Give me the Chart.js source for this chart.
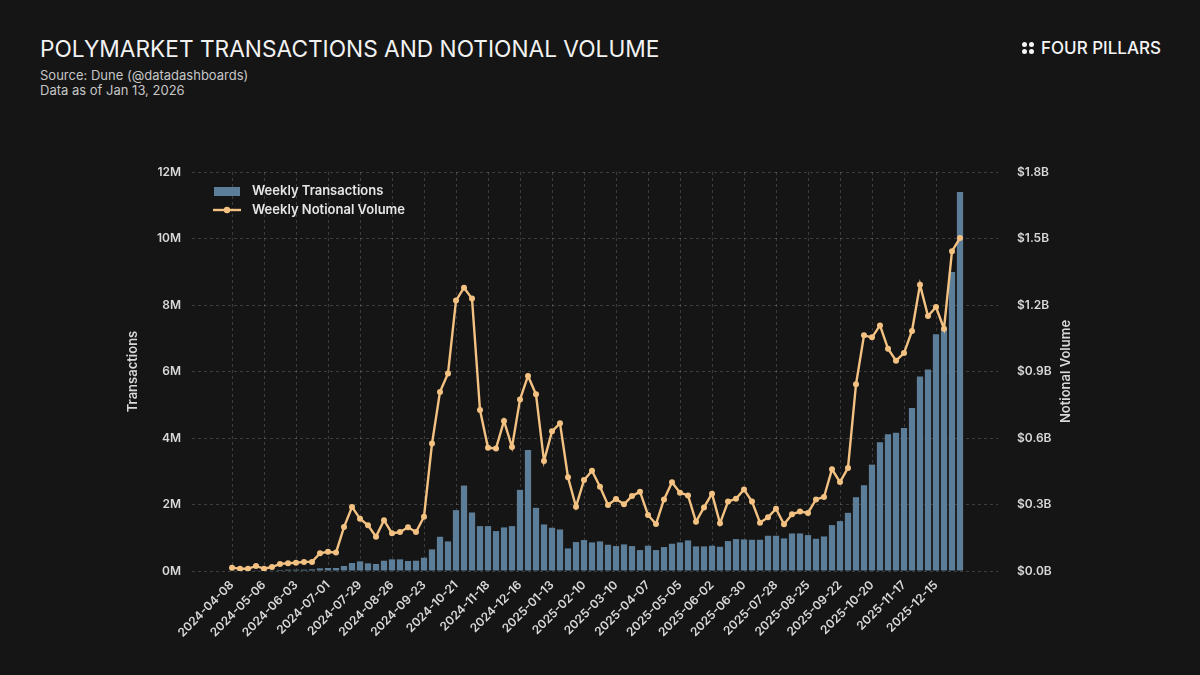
<!DOCTYPE html>
<html>
<head>
<meta charset="utf-8">
<title>Polymarket Transactions and Notional Volume</title>
<script src="https://cdn.jsdelivr.net/npm/chart.js@4.4.1/dist/chart.umd.min.js"></script>
<style>
  html, body { margin: 0; padding: 0; background: #151515; }
  body { width: 1200px; height: 675px; position: relative; overflow: hidden; font-family: Inter, "Noto Sans", sans-serif; }
  #title { position: absolute; left: 40px; top: 36px; font-size: 22.7px; line-height: 26px; font-weight: 400; color: #f2f2f2; white-space: nowrap; }
  .sub { position: absolute; left: 40px; font-size: 13px; line-height: 15px; color: #c6c6c6; white-space: nowrap; }
  #brand { position: absolute; left: 1022px; top: 38px; height: 20px; display: flex; align-items: center; color: #f4f4f4; font-size: 17px; font-weight: 500; white-space: nowrap; }
  #brand .dots { width: 12px; height: 12px; display: grid; grid-template-columns: 5px 5px; grid-gap: 2px; margin-right: 7px; }
  #brand .dots i { display: block; width: 5px; height: 5px; border-radius: 50%; background: #f4f4f4; }
  #wrap { position: absolute; left: 0; top: 0; width: 1200px; height: 675px; }
</style>
</head>
<body>
<div id="title">POLYMARKET TRANSACTIONS AND NOTIONAL VOLUME</div>
<div class="sub" style="top:68px">Source: Dune (@datadashboards)</div>
<div class="sub" style="top:83px">Data as of Jan 13, 2026</div>
<div id="brand"><span class="dots"><i></i><i></i><i></i><i></i></span>FOUR PILLARS</div>
<div id="wrap"><canvas id="c" width="1200" height="675"></canvas></div>

<script>
// weekly buckets (week start, Monday)
const weeks = [
  "2024-04-08","2024-04-15","2024-04-22","2024-04-29","2024-05-06","2024-05-13","2024-05-20","2024-05-27",
  "2024-06-03","2024-06-10","2024-06-17","2024-06-24","2024-07-01","2024-07-08","2024-07-15","2024-07-22",
  "2024-07-29","2024-08-05","2024-08-12","2024-08-19","2024-08-26","2024-09-02","2024-09-09","2024-09-16",
  "2024-09-23","2024-09-30","2024-10-07","2024-10-14","2024-10-21","2024-10-28","2024-11-04","2024-11-11",
  "2024-11-18","2024-11-25","2024-12-02","2024-12-09","2024-12-16","2024-12-23","2024-12-30","2025-01-06",
  "2025-01-13","2025-01-20","2025-01-27","2025-02-03","2025-02-10","2025-02-17","2025-02-24","2025-03-03",
  "2025-03-10","2025-03-17","2025-03-24","2025-03-31","2025-04-07","2025-04-14","2025-04-21","2025-04-28",
  "2025-05-05","2025-05-12","2025-05-19","2025-05-26","2025-06-02","2025-06-09","2025-06-16","2025-06-23",
  "2025-06-30","2025-07-07","2025-07-14","2025-07-21","2025-07-28","2025-08-04","2025-08-11","2025-08-18",
  "2025-08-25","2025-09-01","2025-09-08","2025-09-15","2025-09-22","2025-09-29","2025-10-06","2025-10-13",
  "2025-10-20","2025-10-27","2025-11-03","2025-11-10","2025-11-17","2025-11-24","2025-12-01","2025-12-08",
  "2025-12-15","2025-12-22","2025-12-29","2026-01-05"
];

// weekly transactions, millions
const transactionsM = [
  0.01,0.01,0.01,0.02,0.02,0.02,0.03,0.04,
  0.04,0.04,0.05,0.08,0.09,0.09,0.15,0.24,
  0.29,0.23,0.21,0.31,0.35,0.35,0.30,0.31,
  0.40,0.65,1.03,0.89,1.83,2.57,1.76,1.35,
  1.35,1.20,1.31,1.35,2.44,3.64,1.90,1.40,
  1.30,1.25,0.68,0.87,0.93,0.86,0.89,0.79,
  0.75,0.80,0.75,0.63,0.76,0.63,0.72,0.82,
  0.86,0.92,0.74,0.74,0.76,0.73,0.90,0.96,
  0.95,0.94,0.94,1.06,1.06,0.98,1.13,1.13,
  1.08,0.97,1.04,1.38,1.50,1.75,2.22,2.58,
  3.20,3.87,4.11,4.16,4.30,4.90,5.85,6.06,
  7.12,7.30,8.99,11.40
];

// weekly notional volume, $ billions
const notionalB = [
  0.015,0.010,0.010,0.023,0.010,0.018,0.032,0.035,
  0.037,0.041,0.041,0.080,0.087,0.083,0.198,0.289,
  0.236,0.206,0.155,0.229,0.170,0.176,0.197,0.176,
  0.245,0.575,0.808,0.891,1.220,1.278,1.229,0.726,
  0.556,0.553,0.677,0.559,0.774,0.880,0.797,0.496,
  0.630,0.666,0.423,0.290,0.410,0.452,0.380,0.298,
  0.325,0.301,0.338,0.358,0.253,0.212,0.323,0.400,
  0.353,0.341,0.222,0.287,0.349,0.215,0.313,0.326,
  0.368,0.313,0.218,0.242,0.281,0.211,0.256,0.268,
  0.262,0.323,0.334,0.459,0.401,0.465,0.842,1.063,
  1.054,1.108,1.003,0.949,0.983,1.083,1.291,1.150,
  1.191,1.093,1.443,1.502
];

const tickLabels = [
  "2024-04-08","2024-05-06","2024-06-03","2024-07-01","2024-07-29","2024-08-26","2024-09-23",
  "2024-10-21","2024-11-18","2024-12-16","2025-01-13","2025-02-10","2025-03-10","2025-04-07",
  "2025-05-05","2025-06-02","2025-06-30","2025-07-28","2025-08-25","2025-09-22","2025-10-20",
  "2025-11-17","2025-12-15"
];
const txTicks = [0, 2, 4, 6, 8, 10, 12];
const volTicks = [0, 0.3, 0.6, 0.9, 1.2, 1.5, 1.8];

const BAR = "#5d7e98";
const LINE = "#f3c283";
const GRID = "rgba(255,255,255,0.17)";
const TXT = "#d8d8d8";

Chart.defaults.font.family = "Inter, 'Noto Sans', sans-serif";

// legend + axis titles drawn by hand so they sit where the original has them
const overlay = {
  id: "overlay",
  afterDraw(chart){
    const { ctx, chartArea: a } = chart;
    const ds = chart.data.datasets;
    const bars = ds.find(d => d.type === "bar");
    const line = ds.find(d => d.type === "line");
    ctx.save();
    ctx.textBaseline = "middle";
    ctx.font = "600 13px Inter, 'Noto Sans', sans-serif";
    const lx = a.left + 22;
    ctx.fillStyle = bars.backgroundColor;
    ctx.fillRect(lx, a.top + 15, 26, 9);
    ctx.fillStyle = "#e6e6e6";
    ctx.fillText(bars.label, lx + 38, a.top + 19.5);
    ctx.strokeStyle = line.borderColor;
    ctx.lineWidth = 2.4;
    ctx.beginPath(); ctx.moveTo(lx - 1, a.top + 38); ctx.lineTo(lx + 27, a.top + 38); ctx.stroke();
    ctx.fillStyle = line.borderColor;
    ctx.beginPath(); ctx.arc(lx + 13, a.top + 38, 3.2, 0, Math.PI * 2); ctx.fill();
    ctx.fillStyle = "#e6e6e6";
    ctx.fillText(line.label, lx + 38, a.top + 38.5);

    const midY = (a.top + a.bottom) / 2;
    ctx.textAlign = "center";
    ctx.fillStyle = TXT;
    ctx.font = "600 13px Inter, 'Noto Sans', sans-serif";
    ctx.save(); ctx.translate(133, midY); ctx.rotate(-Math.PI / 2); ctx.fillText("Transactions", 0, 0); ctx.restore();
    ctx.save(); ctx.translate(1066, midY); ctx.rotate(-Math.PI / 2); ctx.fillText("Notional Volume", 0, 0); ctx.restore();
    ctx.restore();
  }
};

function draw(){
  new Chart(document.getElementById("c"), {
    type: "bar",
    data: {
      datasets: [
        {
          type: "line", label: "Weekly Notional Volume", yAxisID: "y1", order: 0,
          data: weeks.map((w, i) => ({ x: i, y: notionalB[i] })),
          borderColor: LINE, backgroundColor: LINE, borderWidth: 2.4, tension: 0,
          pointRadius: 3, pointBorderWidth: 0, pointBackgroundColor: LINE
        },
        {
          type: "bar", label: "Weekly Transactions", yAxisID: "y", order: 1,
          data: weeks.map((w, i) => ({ x: i, y: transactionsM[i] })),
          backgroundColor: BAR, barPercentage: 0.78, categoryPercentage: 1
        }
      ]
    },
    options: {
      responsive: false,
      animation: false,
      layout: { padding: { left: 122, right: 142, top: 172, bottom: 14 } },
      plugins: { legend: { display: false }, tooltip: { enabled: false } },
      scales: {
        x: {
          type: "linear", min: -5, max: 95.75, offset: false,
          grid: { offset: false, color: GRID, drawTicks: false },
          border: { display: false, dash: [3, 3] },
          afterBuildTicks(s){ s.ticks = tickLabels.map(l => ({ value: weeks.indexOf(l) })); },
          afterFit(s){ s.height = 90; },
          ticks: {
            autoSkip: false, minRotation: 45, maxRotation: 45, padding: 7,
            color: TXT, font: { size: 12, weight: "600" },
            callback: v => weeks[v]
          }
        },
        y: {
          position: "left", min: 0, max: 12,
          afterBuildTicks(s){ s.ticks = txTicks.map(v => ({ value: v })); },
          afterFit(s){ s.width = 70; },
          grid: { color: GRID, drawTicks: false },
          border: { display: false, dash: [3, 3] },
          ticks: { padding: 11, color: TXT, font: { size: 12, weight: "600" }, callback: v => v + "M" }
        },
        y1: {
          position: "right", min: 0, max: 1.8,
          afterBuildTicks(s){ s.ticks = volTicks.map(v => ({ value: v })); },
          afterFit(s){ s.width = 60; },
          grid: { display: false },
          border: { display: false },
          ticks: { padding: 11, color: TXT, font: { size: 12, weight: "600" }, callback: v => "$" + v.toFixed(1) + "B" }
        }
      }
    },
    plugins: [overlay]
  });
}

if (document.fonts && document.fonts.load) {
  Promise.all([document.fonts.load("600 12px Inter"), document.fonts.load("400 24px Inter")]).finally(draw);
} else {
  draw();
}
</script>
</body>
</html>
